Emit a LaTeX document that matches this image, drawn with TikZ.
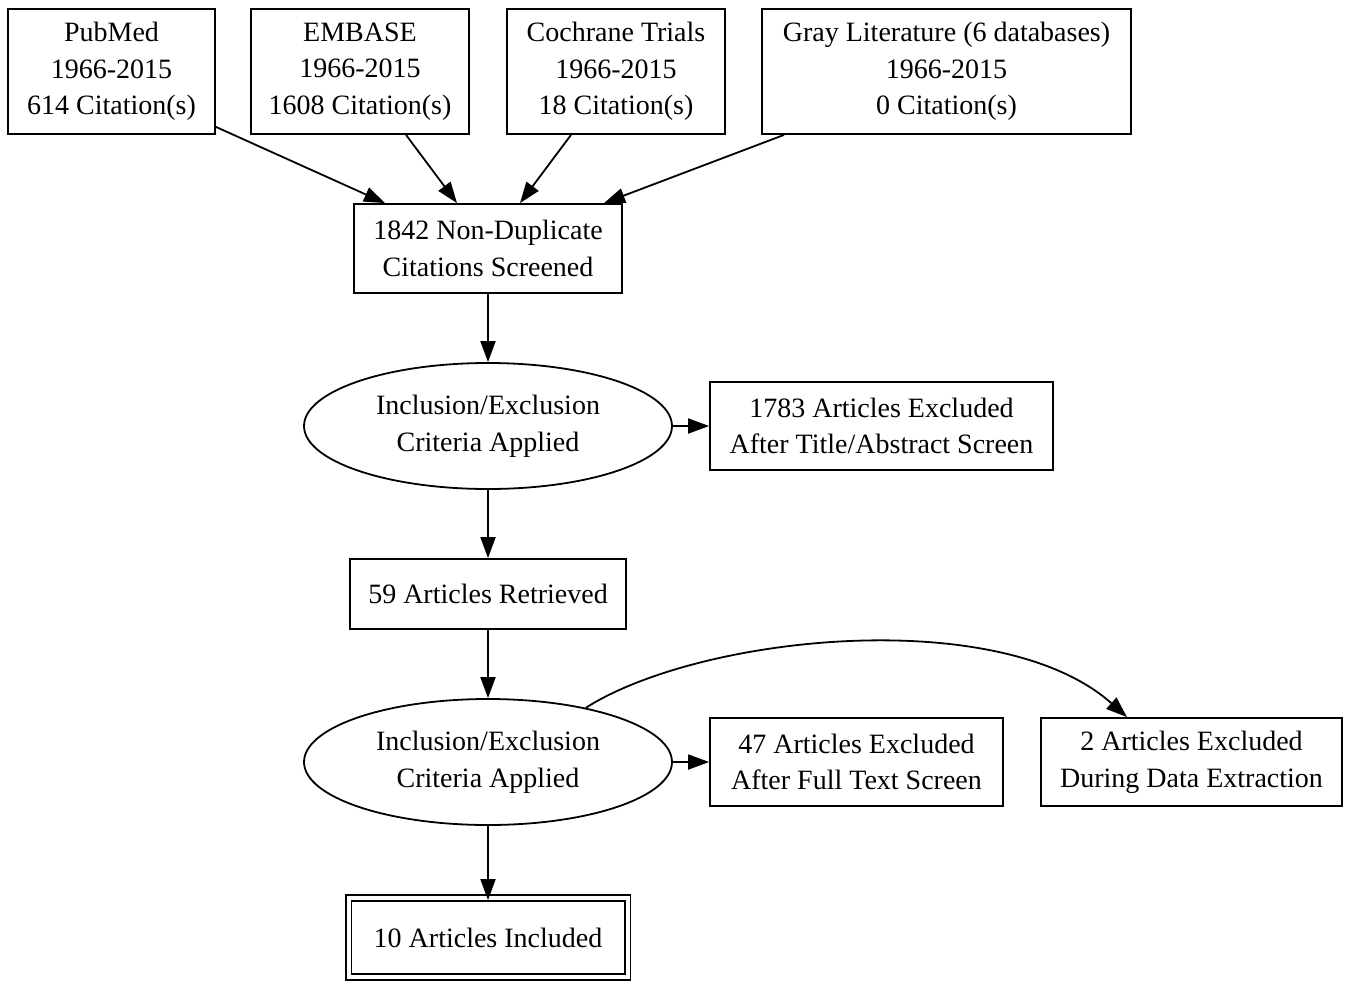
\documentclass[tikz,border=0pt]{standalone}
\usepackage{fontspec}
\setmainfont{Liberation Serif}
\usetikzlibrary{arrows.meta,shapes.geometric}
\begin{document}
\begin{tikzpicture}[x=0.5pt,y=-0.5pt,
  every node/.style={font=\fontsize{14pt}{18.3pt}\selectfont, align=center, inner sep=0pt, line width=0.9pt},
  box/.style={draw, rectangle},
  oval/.style={draw, ellipse, minimum width=184pt, minimum height=63pt},
  conn/.style={line width=0.9pt, -{Triangle[length=10.5pt,width=7.5pt]}}
]
\useasboundingbox (0,0) rectangle (1347,980);
% sources
\node[box, minimum width=103.5pt, minimum height=62.5pt] (pub) at (111.5,71.5) {PubMed\\1966-2015\\614 Citation(s)};
\node[box, minimum width=109pt, minimum height=62.5pt] (emb) at (360,71.5) {EMBASE\\1966-2015\\1608 Citation(s)};
\node[box, minimum width=109pt, minimum height=62.5pt] (coc) at (616,71.5) {Cochrane Trials\\1966-2015\\18 Citation(s)};
\node[box, minimum width=184.5pt, minimum height=62.5pt] (gray) at (946.5,71.5) {Gray Literature (6 databases)\\1966-2015\\0 Citation(s)};
% main flow
\node[box, minimum width=134pt, minimum height=44.5pt] (nd) at (488,248.5) {1842 Non-Duplicate\\Citations Screened};
\node[oval] (e1) at (488,426) {Inclusion/Exclusion\\Criteria Applied};
\node[box, minimum width=171.5pt, minimum height=44pt] (x1) at (881.5,426) {1783 Articles Excluded\\After Title/Abstract Screen};
\node[box, minimum width=138pt, minimum height=35pt] (r59) at (488,594) {59 Articles Retrieved};
\node[oval] (e2) at (488,762) {Inclusion/Exclusion\\Criteria Applied};
\node[box, minimum width=146.5pt, minimum height=44pt] (x47) at (856.5,762) {47 Articles Excluded\\After Full Text Screen};
\node[box, minimum width=150.5pt, minimum height=44pt] (x2) at (1191.5,762) {2 Articles Excluded\\During Data Extraction};
\node[box, double, double distance=2pt, minimum width=139.5pt, minimum height=39.5pt] (inc) at (488,937.5) {10 Articles Included};
% connectors
\draw[conn] ([yshift=4pt]pub.south east) -- ([xshift=-51.5pt]nd.north);
\draw[conn] ([xshift=23pt]emb.south) -- ([xshift=-15.5pt]nd.north);
\draw[conn] ([xshift=-22.5pt]coc.south) -- ([xshift=16pt]nd.north);
\draw[conn] ([xshift=-81.25pt]gray.south) -- ([xshift=58pt]nd.north);
\draw[conn] (nd.south) -- (e1.north);
\draw[conn] (e1.east) -- (x1.west);
\draw[conn] (e1.south) -- (r59.north);
\draw[conn] (r59.south) -- (e2.north);
\draw[conn] (e2.east) -- (x47.west);
\draw[conn, shorten >=-1.5pt] (e2.south) -- (inc.north);
\draw[conn] (e2.29) .. controls +(115,-73) and +(-127,-113) .. ([xshift=-32.25pt]x2.north);
\end{tikzpicture}
\end{document}
